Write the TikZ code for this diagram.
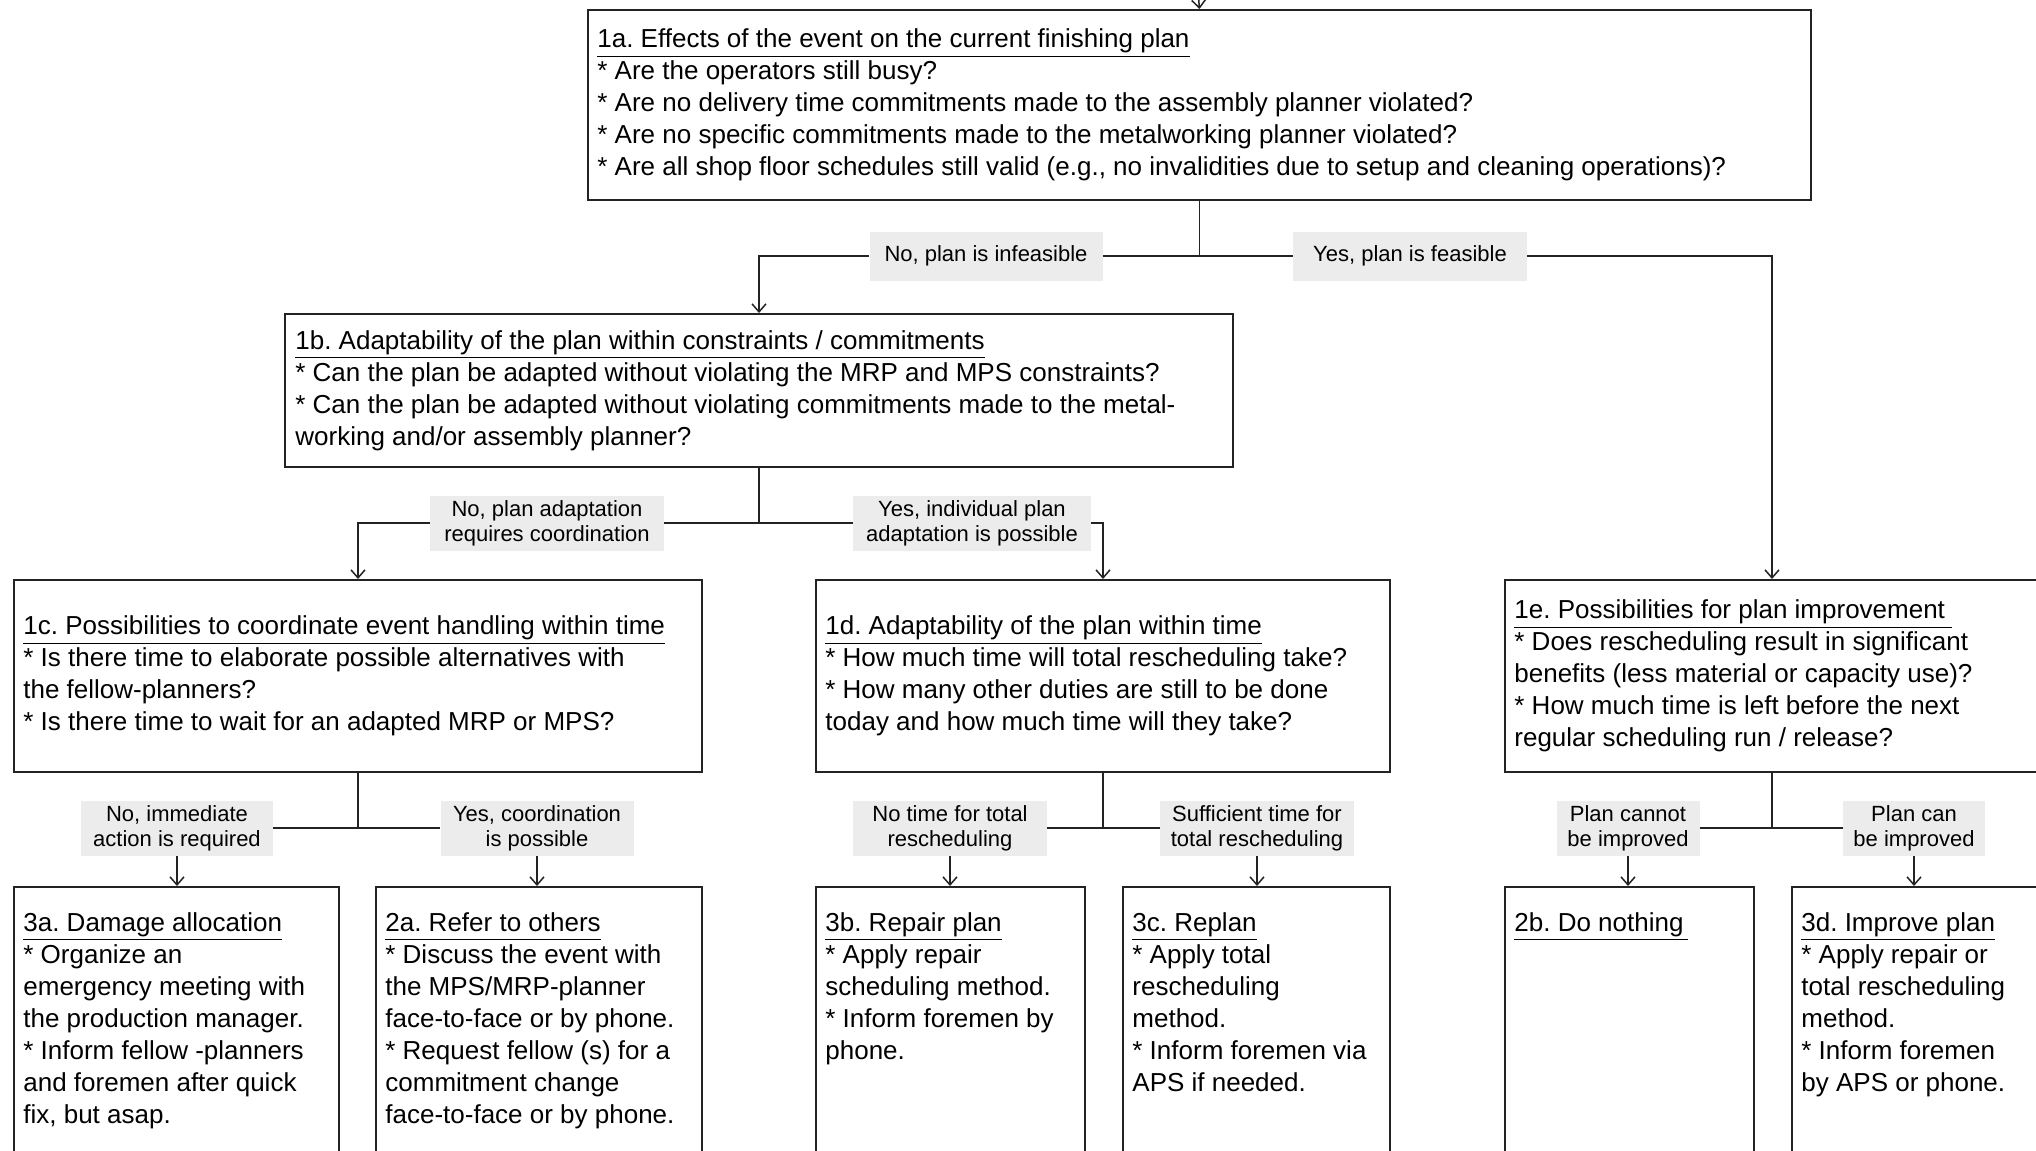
\documentclass[tikz,border=0pt]{standalone}
\usepackage{fontspec}
\setmainfont{Liberation Sans}
\usetikzlibrary{arrows.meta,calc}
\definecolor{lblgray}{RGB}{236,236,236}
\definecolor{linecol}{RGB}{35,35,35}
\frenchspacing
\newcommand{\ttl}[1]{\underline{#1\vphantom{gpy}}}
\tikzset{
  box/.style={draw=linecol, line width=1pt, inner sep=0pt, anchor=north west},
  lbl/.style={fill=lblgray, inner sep=0pt, align=center, font=\fontsize{11pt}{12.5pt}\selectfont},
  txt/.style={inner sep=0pt, align=left, font=\fontsize{13pt}{16pt}\selectfont},
  ln/.style={line width=0.75pt, draw=linecol},
  arr/.style={ln, -{Straight Barb[length=4pt,width=7pt]}},
}
\begin{document}
\begin{tikzpicture}[x=0.5pt,y=-0.5pt]
\useasboundingbox (0,0) rectangle (2036,1151);
\fill[white] (0,0) rectangle (2036,1151);
\clip (0,0) rectangle (2036,1151);

% boxes
\node[box, minimum width=611.5pt, minimum height=95pt] (b1a) at (587,9) {};
\node[box, minimum width=474pt, minimum height=76.5pt] (b1b) at (284,313) {};
\node[box, minimum width=344pt, minimum height=96pt] (b1c) at (13,579) {};
\node[box, minimum width=287pt, minimum height=96pt] (b1d) at (815,579) {};
\node[box, minimum width=267pt, minimum height=96pt] (b1e) at (1504,579) {};
\node[box, minimum width=162.5pt, minimum height=160pt] (b3a) at (13,886) {};
\node[box, minimum width=163pt, minimum height=160pt] (b2a) at (375,886) {};
\node[box, minimum width=134.5pt, minimum height=160pt] (b3b) at (815,886) {};
\node[box, minimum width=133.5pt, minimum height=160pt] (b3c) at (1122,886) {};
\node[box, minimum width=124.5pt, minimum height=160pt] (b2b) at (1504,886) {};
\node[box, minimum width=123pt, minimum height=160pt] (b3d) at (1791,886) {};

% texts
\node[txt, anchor=west] (t1a) at ([xshift=5pt]b1a.west) {\ttl{1a. Effects of the event on the current finishing plan}\\
* Are the operators still busy?\\
* Are no delivery time commitments made to the assembly planner violated?\\
* Are no specific commitments made to the metalworking planner violated?\\
* Are all shop floor schedules still valid (e.g., no invalidities due to setup and cleaning operations)?};
\node[txt, anchor=west] (t1b) at ([xshift=5.5pt]b1b.west) {\ttl{1b. Adaptability of the plan within constraints / commitments}\\
* Can the plan be adapted without violating the MRP and MPS constraints?\\
* Can the plan be adapted without violating commitments made to the metal-\\
working and/or assembly planner?};
\node[txt, anchor=west] (t1c) at ([xshift=5pt]b1c.west) {\ttl{1c. Possibilities to coordinate event handling within time}\\
* Is there time to elaborate possible alternatives with\\
the fellow-planners?\\
* Is there time to wait for an adapted MRP or MPS?};
\node[txt, anchor=west] (t1d) at ([xshift=5pt]b1d.west) {\ttl{1d. Adaptability of the plan within time}\\
* How much time will total rescheduling take?\\
* How many other duties are still to be done\\
today and how much time will they take?};
\node[txt, anchor=west] (t1e) at ([xshift=5pt]b1e.west) {\ttl{1e. Possibilities for plan improvement\ }\\
* Does rescheduling result in significant\\
benefits (less material or capacity use)?\\
* How much time is left before the next\\
regular scheduling run / release?};
\node[txt, anchor=north west] (t3a) at ([xshift=5pt,yshift=-13pt]b3a.north west) {\ttl{3a. Damage allocation}\\
* Organize an\\
emergency meeting with\\
the production manager.\\
* Inform fellow -planners\\
and foremen after quick\\
fix, but asap.};
\node[txt, anchor=north west] (t2a) at ([xshift=5pt,yshift=-13pt]b2a.north west) {\ttl{2a. Refer to others}\\
* Discuss the event with\\
the MPS/MRP-planner\\
face-to-face or by phone.\\
* Request fellow (s) for a\\
commitment change\\
face-to-face or by phone.};
\node[txt, anchor=north west] (t3b) at ([xshift=5pt,yshift=-13pt]b3b.north west) {\ttl{3b. Repair plan}\\
* Apply repair\\
scheduling method.\\
* Inform foremen by\\
phone.};
\node[txt, anchor=north west] (t3c) at ([xshift=5pt,yshift=-13pt]b3c.north west) {\ttl{3c. Replan}\\
* Apply total\\
rescheduling\\
method.\\
* Inform foremen via\\
APS if needed.};
\node[txt, anchor=north west] (t2b) at ([xshift=5pt,yshift=-13pt]b2b.north west) {\ttl{2b. Do nothing\,}};
\node[txt, anchor=north west] (t3d) at ([xshift=5pt,yshift=-13pt]b3d.north west) {\ttl{3d. Improve plan}\\
* Apply repair or\\
total rescheduling\\
method.\\
* Inform foremen\\
by APS or phone.};

% labels
\node[lbl, minimum width=116.5pt, minimum height=24.5pt] (L1) at (986,256) {No, plan is infeasible};
\node[lbl, minimum width=117pt, minimum height=24.5pt] (L2) at (1410,256) {Yes, plan is feasible};
\node[lbl, minimum width=117pt, minimum height=27.5pt] (L3) at (547,523) {No, plan adaptation\\requires coordination};
\node[lbl, minimum width=119pt, minimum height=27.5pt] (L4) at (972,523) {Yes, individual plan\\adaptation is possible};
\node[lbl, minimum width=96pt, minimum height=27.5pt] (L5) at (177,828) {No, immediate\\action is required};
\node[lbl, minimum width=96.5pt, minimum height=27.5pt] (L6) at (537,828) {Yes, coordination\\is possible};
\node[lbl, minimum width=97pt, minimum height=27.5pt] (L7) at (950,828) {No time for total\\rescheduling};
\node[lbl, minimum width=97pt, minimum height=27.5pt] (L8) at (1257,828) {Sufficient time for\\total rescheduling};
\node[lbl, minimum width=71.5pt, minimum height=27.5pt] (L9) at (1628,828) {Plan cannot\\be improved};
\node[lbl, minimum width=71pt, minimum height=27.5pt] (L10) at (1914,828) {Plan can\\be improved};

% connectors
\coordinate (top) at (1197,-20);
\draw[arr] (top) -- (b1a.north);
\draw[ln] (b1a.south) -- (b1a.south |- L1.east);
\draw[ln] (L1.east) -- (L2.west);
\draw[arr] (L1.west) -| (b1b.north);
\draw[arr] (L2.east) -| (b1e.north);

\draw[ln] (b1b.south) -- (b1b.south |- L3.east);
\draw[ln] (L3.east) -- (L4.west);
\draw[arr] (L3.west) -| (b1c.north);
\draw[arr] (L4.east) -| (b1d.north);

\draw[ln] (b1c.south) -- (b1c.south |- L5.east);
\draw[ln] (L5.east) -- (L6.west);
\draw[arr] (L5.south) -- (L5.south |- b3a.north);
\draw[arr] (L6.south) -- (L6.south |- b2a.north);

\draw[ln] (b1d.south) -- (b1d.south |- L7.east);
\draw[ln] (L7.east) -- (L8.west);
\draw[arr] (L7.south) -- (L7.south |- b3b.north);
\draw[arr] (L8.south) -- (L8.south |- b3c.north);

\draw[ln] (b1e.south) -- (b1e.south |- L9.east);
\draw[ln] (L9.east) -- (L10.west);
\draw[arr] (L9.south) -- (L9.south |- b2b.north);
\draw[arr] (L10.south) -- (L10.south |- b3d.north);
\end{tikzpicture}
\end{document}
